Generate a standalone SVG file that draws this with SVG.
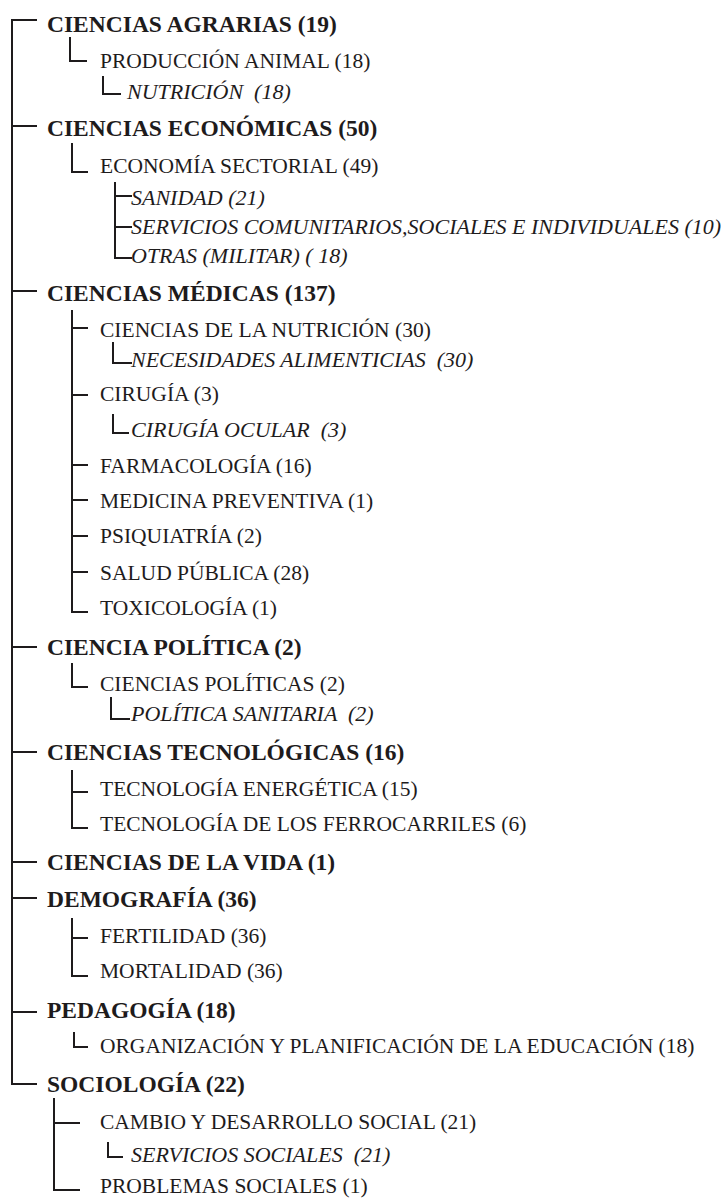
<svg xmlns="http://www.w3.org/2000/svg" width="721" height="1198" viewBox="0 0 721 1198">
<style>
text{fill:#1e1b1c;white-space:pre;font-family:"Liberation Serif","Times New Roman",serif}
.b{font-weight:bold;font-size:23.5px}
.r{font-size:21.5px}
.i{font-style:italic;font-size:22px}
.c{fill:none;stroke:#1e1b1c;stroke-width:2}
</style>
<rect width="721" height="1198" fill="#fff"/>
<g id="connectors" class="c">
<path d="M12,19 V1085 M12,20 H37 M12,126 H37 M12,291 H37 M12,647 H37 M12,752 H37 M12,862 H37 M12,898 H37 M12,1012 H37 M12,1084 H37"/>
<path d="M70,37 V61 H87"/>
<path d="M103,76 V94 H121"/>
<path d="M72,143 V172 H88"/>
<path d="M115,182 V258 H132 M115,196 H132 M115,227 H132"/>
<path d="M72,310 V612 H88 M72,328 H88 M72,395 H88 M72,465 H88 M72,500 H88 M72,536 H88 M72,572 H88"/>
<path d="M113,342 V363 H132"/>
<path d="M113,414 V433 H129"/>
<path d="M72,663 V687 H88"/>
<path d="M111,697 V719 H130"/>
<path d="M72,770 V828 H88 M72,792 H88"/>
<path d="M72,918 V976 H88 M72,938 H88"/>
<path d="M74,1032 V1047 H88"/>
<path d="M54,1098 V1190 H80 M54,1123 H80"/>
<path d="M108,1142 V1157 H123"/>
</g>
<g id="n1"><text class="b" x="47" y="32">CIENCIAS AGRARIAS (19)</text></g>
<g id="n2"><text class="r" x="100" y="68">PRODUCCIÓN ANIMAL (18)</text></g>
<g id="n3"><text class="i" x="127" y="99">NUTRICIÓN  (18)</text></g>
<g id="n4"><text class="b" x="47" y="136">CIENCIAS ECONÓMICAS (50)</text></g>
<g id="n5"><text class="r" x="100" y="173">ECONOMÍA SECTORIAL (49)</text></g>
<g id="n6"><text class="i" x="131" y="205">SANIDAD (21)</text></g>
<g id="n7"><text class="i" x="131" y="234">SERVICIOS COMUNITARIOS,SOCIALES E INDIVIDUALES (10)</text></g>
<g id="n8"><text class="i" x="131" y="263">OTRAS (MILITAR) ( 18)</text></g>
<g id="n9"><text class="b" x="47" y="301">CIENCIAS MÉDICAS (137)</text></g>
<g id="n10"><text class="r" x="100" y="337">CIENCIAS DE LA NUTRICIÓN (30)</text></g>
<g id="n11"><text class="i" x="131" y="367">NECESIDADES ALIMENTICIAS  (30)</text></g>
<g id="n12"><text class="r" x="100" y="401">CIRUGÍA (3)</text></g>
<g id="n13"><text class="i" x="131" y="437">CIRUGÍA OCULAR  (3)</text></g>
<g id="n14"><text class="r" x="100" y="473">FARMACOLOGÍA (16)</text></g>
<g id="n15"><text class="r" x="100" y="508">MEDICINA PREVENTIVA (1)</text></g>
<g id="n16"><text class="r" x="100" y="543">PSIQUIATRÍA (2)</text></g>
<g id="n17"><text class="r" x="100" y="580">SALUD PÚBLICA (28)</text></g>
<g id="n18"><text class="r" x="100" y="615">TOXICOLOGÍA (1)</text></g>
<g id="n19"><text class="b" x="47" y="655">CIENCIA POLÍTICA (2)</text></g>
<g id="n20"><text class="r" x="100" y="691">CIENCIAS POLÍTICAS (2)</text></g>
<g id="n21"><text class="i" x="131" y="721">POLÍTICA SANITARIA  (2)</text></g>
<g id="n22"><text class="b" x="47" y="760">CIENCIAS TECNOLÓGICAS (16)</text></g>
<g id="n23"><text class="r" x="100" y="796">TECNOLOGÍA ENERGÉTICA (15)</text></g>
<g id="n24"><text class="r" x="100" y="831">TECNOLOGÍA DE LOS FERROCARRILES (6)</text></g>
<g id="n25"><text class="b" x="47" y="870">CIENCIAS DE LA VIDA (1)</text></g>
<g id="n26"><text class="b" x="47" y="907">DEMOGRAFÍA (36)</text></g>
<g id="n27"><text class="r" x="100" y="943">FERTILIDAD (36)</text></g>
<g id="n28"><text class="r" x="100" y="978">MORTALIDAD (36)</text></g>
<g id="n29"><text class="b" x="47" y="1018">PEDAGOGÍA (18)</text></g>
<g id="n30"><text class="r" x="100" y="1053">ORGANIZACIÓN Y PLANIFICACIÓN DE LA EDUCACIÓN (18)</text></g>
<g id="n31"><text class="b" x="47" y="1092">SOCIOLOGÍA (22)</text></g>
<g id="n32"><text class="r" x="100" y="1129">CAMBIO Y DESARROLLO SOCIAL (21)</text></g>
<g id="n33"><text class="i" x="131" y="1162">SERVICIOS SOCIALES  (21)</text></g>
<g id="n34"><text class="r" x="100" y="1193">PROBLEMAS SOCIALES (1)</text></g>
</svg>
